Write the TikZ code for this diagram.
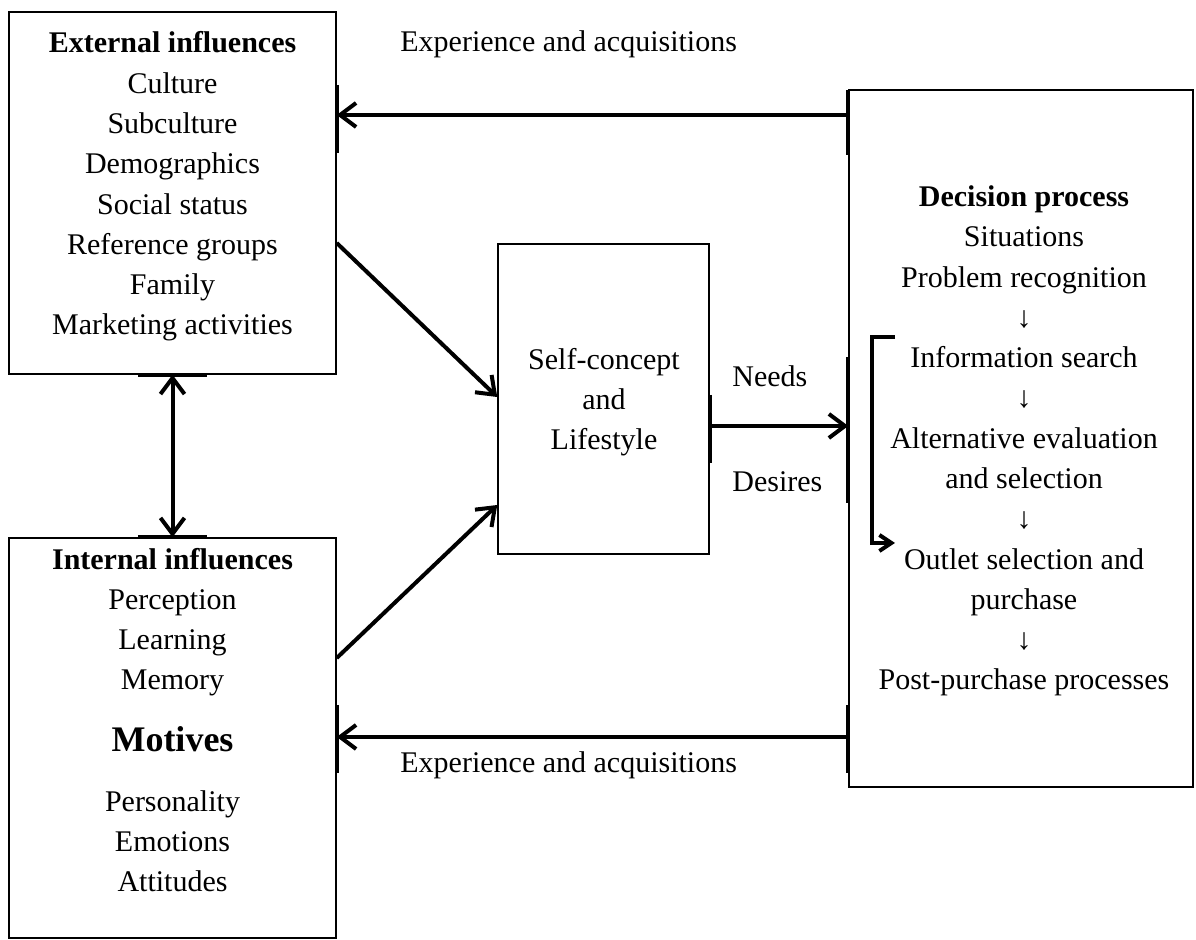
\documentclass[tikz,border=0pt]{standalone}
\usepackage{fontspec}
\setmainfont{Liberation Serif}
\usetikzlibrary{arrows.meta}
\tikzset{
  box/.style={draw, line width=0.75pt, inner sep=0pt},
  lbl/.style={font=\fontsize{15}{20.15}\selectfont, inner sep=0pt, align=center},
  conn/.style={line width=2pt, -{Straight Barb[length=8pt,width=12pt,line width=2pt]}},
  edgemark/.style={line width=2pt},
}
\begin{document}
\begin{tikzpicture}[x=0.5pt,y=-0.5pt]
\useasboundingbox (0,0) rectangle (1196,940) ;
\node[box, minimum width=163.5pt, minimum height=181pt] (ext) at (172.5,193) {} ;
\node[box, minimum width=163.5pt, minimum height=200pt] (int) at (172.5,738) {} ;
\node[box, minimum width=105.5pt, minimum height=155pt] (self) at (603.5,399) {} ;
\node[box, minimum width=172pt, minimum height=348.5pt] (dec) at (1021,438.5) {} ;
\node[lbl, anchor=base] (extText) at (172.5,335) {\textbf{External influences}\\Culture\\Subculture\\Demographics\\Social status\\Reference groups\\Family\\Marketing activities} ;
\node[lbl, anchor=base] (intText) at (172.5,690) {\textbf{Internal influences}\\Perception\\Learning\\Memory} ;
\node[lbl, anchor=base, font=\fontsize{18}{22}\selectfont\bfseries] (motives) at (172.5,752) {Motives} ;
\node[lbl, anchor=base] (intItems) at (172.5,892) {Personality\\Emotions\\Attitudes} ;
\node[lbl, anchor=base] (selfText) at (604,450) {Self-concept\\and\\Lifestyle} ;
\node[lbl, anchor=base] (decText) at (1024,690) {\textbf{Decision process}\\Situations\\Problem recognition\\↓\\Information search\\↓\\Alternative evaluation\\and selection\\↓\\Outlet selection and\\purchase\\↓\\Post-purchase processes} ;
\node[lbl, anchor=base west] (expTop) at (400,52) {Experience and acquisitions} ;
\node[lbl, anchor=base west] (expBot) at (400,773) {Experience and acquisitions} ;
\node[lbl, anchor=base west] (needs) at (732,387) {Needs} ;
\node[lbl, anchor=base west] (desires) at (732,492) {Desires} ;
\draw[edgemark] (ext.east |- 0,85) -- (ext.east |- 0,153) ;
\draw[edgemark] (dec.west |- 0,90) -- (dec.west |- 0,155) ;
\draw[edgemark] (self.east |- 0,395) -- (self.east |- 0,463) ;
\draw[edgemark] (dec.west |- 0,357) -- (dec.west |- 0,503) ;
\draw[edgemark] (int.east |- 0,705) -- (int.east |- 0,773) ;
\draw[edgemark] (dec.west |- 0,705) -- (dec.west |- 0,773) ;
\draw[edgemark] (ext.south -| 138,0) -- (ext.south -| 207,0) ;
\draw[edgemark] (int.north -| 138,0) -- (int.north -| 207,0) ;
\draw[conn] (dec.west |- 0,115) -- (ext.east |- 0,115) ;
\draw[conn] (self.east |- 0,426) -- (dec.west |- 0,426) ;
\draw[conn] (dec.west |- 0,737) -- (int.east |- 0,737) ;
\draw[conn] (ext.east |- 0,243) -- (self.west |- 0,397) ;
\draw[conn] (int.east |- 0,658) -- (self.west |- 0,505) ;
\draw[line width=2pt, {Straight Barb[length=8pt,width=12pt,line width=2pt]}-{Straight Barb[length=8pt,width=12pt,line width=2pt]}] (ext.south) -- (int.north) ;
\draw[line width=2pt, -{Straight Barb[length=6pt,width=8pt,line width=2pt]}] (895,337) -- (872,337) -- (872,543) -- (895,543) ;
\end{tikzpicture}
\end{document}
